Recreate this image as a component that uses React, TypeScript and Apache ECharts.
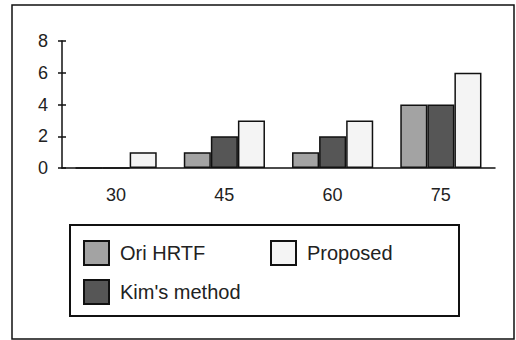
import React, { useEffect, useRef } from "react";
import * as echarts from "echarts";

const categories = ["30", "45", "60", "75"];
const oriHrtf = [0, 1, 1, 4];
const kimMethod = [0, 2, 2, 4];
const proposed = [1, 3, 3, 6];
const seriesNames = ["Ori HRTF", "Kim's method", "Proposed"];

const FONT = "Liberation Sans";

export default function App() {
  const ref = useRef<HTMLDivElement>(null);
  useEffect(() => {
    if (!ref.current) return;
    const chart = echarts.init(ref.current, null, { renderer: "svg" });
    const border = { borderColor: "#111", borderWidth: 1.5 };
    const legendText = { color: "#222", fontFamily: FONT, fontSize: 20, padding: [0, 0, 0, 6] };
    chart.setOption({
      animation: false,
      backgroundColor: "#ffffff",
      grid: { left: 62, right: 21, top: 41, bottom: 172 },
      xAxis: {
        type: "category",
        data: categories,
        axisLine: { lineStyle: { color: "#111", width: 1.5 } },
        axisTick: { show: false },
        axisLabel: { color: "#222", fontFamily: FONT, fontSize: 18, margin: 18 },
      },
      yAxis: [
        {
          type: "value",
          min: 0,
          max: 8,
          interval: 2,
          axisLine: { show: true, lineStyle: { color: "#111", width: 1.5 } },
          axisTick: { show: true, length: 4, lineStyle: { color: "#111", width: 1.5 } },
          axisLabel: { color: "#222", fontFamily: FONT, fontSize: 18, margin: 14 },
          splitLine: { show: false },
        },
        {
          type: "value",
          position: "left",
          min: 0,
          max: 8,
          interval: 2,
          axisLine: { show: false },
          axisTick: { show: true, inside: true, length: 4, lineStyle: { color: "#111", width: 1.5 } },
          axisLabel: { show: false },
          splitLine: { show: false },
        },
      ],
      legend: [
        {
          data: [seriesNames[0], seriesNames[1]],
          orient: "vertical",
          left: 83,
          top: 240,
          icon: "rect",
          itemWidth: 25,
          itemHeight: 24,
          itemGap: 13,
          textStyle: legendText,
          padding: 0,
        },
        {
          data: [seriesNames[2]],
          orient: "vertical",
          left: 270,
          top: 240,
          icon: "rect",
          itemWidth: 25,
          itemHeight: 24,
          textStyle: legendText,
          padding: 0,
        },
      ],
      graphic: [
        {
          type: "rect",
          shape: { x: 12, y: 5, width: 502, height: 334 },
          style: { fill: "none", stroke: "#111", lineWidth: 1.5 },
          silent: true,
        },
        {
          type: "rect",
          shape: { x: 70, y: 225, width: 389, height: 91 },
          style: { fill: "none", stroke: "#111", lineWidth: 2 },
          silent: true,
        },
      ],
      series: [
        {
          name: seriesNames[0],
          type: "bar",
          data: oriHrtf,
          barGap: "0%",
          barCategoryGap: "25%",
          itemStyle: { color: "#a3a3a3", ...border },
        },
        {
          name: seriesNames[1],
          type: "bar",
          data: kimMethod,
          barGap: "0%",
          barCategoryGap: "25%",
          itemStyle: { color: "#565656", ...border },
        },
        {
          name: seriesNames[2],
          type: "bar",
          data: proposed,
          barGap: "0%",
          barCategoryGap: "25%",
          itemStyle: { color: "#f4f4f4", ...border },
        },
      ],
    });
    return () => chart.dispose();
  }, []);
  return <div ref={ref} style={{ width: 516, height: 340, position: "absolute", left: 0, top: 0 }} />;
}
